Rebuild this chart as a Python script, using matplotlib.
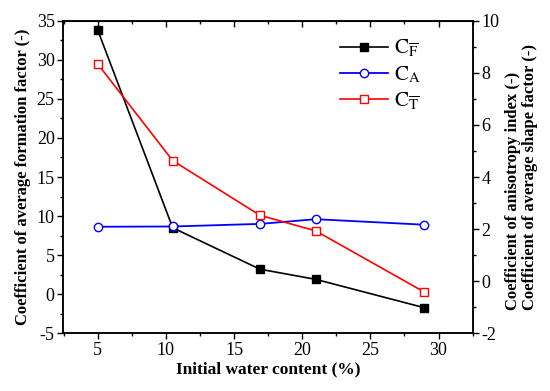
import numpy as np
import matplotlib.pyplot as plt
from matplotlib.ticker import MultipleLocator

plt.rcParams['font.family'] = ['Liberation Serif', 'DejaVu Serif']
plt.rcParams['mathtext.fontset'] = 'stix'
plt.rcParams['axes.unicode_minus'] = False

# initial water content (%)
water = [5, 10.5, 16.9, 21, 28.9]
# left axis: coefficient of average formation factor
c_f = [33.8, 8.5, 3.2, 1.9, -1.7]
# right axis: anisotropy index and average shape factor
c_a = [2.09, 2.10, 2.20, 2.38, 2.17]
c_t = [8.34, 4.63, 2.53, 1.93, -0.40]

fig = plt.figure(figsize=(5.5, 3.91), dpi=100)
ax = fig.add_axes([0.1145, 0.1476, 0.746, 0.7994])
ax2 = ax.twinx()

l1, = ax.plot(water, c_f, color='black', lw=1.2, marker='s', ms=5.5,
              mfc='black', mec='black', label=r'$\mathrm{C}_{\overline{\mathrm{F}}}$')
l2, = ax2.plot(water, c_a, color='blue', lw=1.3, marker='o', ms=6,
               mfc='white', mec='blue', label=r'$\mathrm{C}_{\mathrm{A}}$')
l3, = ax2.plot(water, c_t, color='red', lw=1.2, marker='s', ms=5.5,
               mfc='white', mec='red', label=r'$\mathrm{C}_{\overline{\mathrm{T}}}$')

ax.set_xlim(2.45, 32.55)
ax.set_ylim(-5, 35)
ax2.set_ylim(-2, 10)

ax.xaxis.set_major_locator(MultipleLocator(5))
ax.xaxis.set_minor_locator(MultipleLocator(2.5))
ax.yaxis.set_major_locator(MultipleLocator(5))
ax.yaxis.set_minor_locator(MultipleLocator(2.5))
ax2.yaxis.set_major_locator(MultipleLocator(2))
ax2.yaxis.set_minor_locator(MultipleLocator(1))

ax.tick_params(which='major', direction='out', length=4, width=1, labelsize=13, pad=2)
ax.tick_params(which='minor', direction='out', length=2.5, width=1)
ax2.tick_params(which='major', direction='out', length=4, width=1, labelsize=13, pad=2)
ax2.tick_params(which='minor', direction='out', length=2.5, width=1)

top = ax.secondary_xaxis('top')
top.xaxis.set_major_locator(MultipleLocator(5))
top.xaxis.set_minor_locator(MultipleLocator(2.5))
top.tick_params(which='major', direction='in', length=4, width=1, labeltop=False)
top.tick_params(which='minor', direction='in', length=2.5, width=1)

for a in (ax, ax2):
    for s in a.spines.values():
        s.set_linewidth(1.1)

ax.set_xlabel('Initial water content (%)', fontsize=12.5, fontweight='bold', labelpad=2)
ax.set_ylabel('Coefficient of average formation factor (-)', fontsize=12,
              fontweight='bold', labelpad=4)
ax2.set_ylabel('Coefficient of anisotropy index (-)\nCoefficient of average shape factor (-)',
               fontsize=12, fontweight='bold', rotation=90, multialignment='left',
               labelpad=4, linespacing=1.1)

ax.legend(handles=[l1, l2, l3], loc='upper left', bbox_to_anchor=(0.63, 1.005),
          frameon=False, fontsize=15, handlelength=2.3, labelspacing=0.25,
          handletextpad=0.3, numpoints=1)

fig.savefig('out.png', dpi=100)
